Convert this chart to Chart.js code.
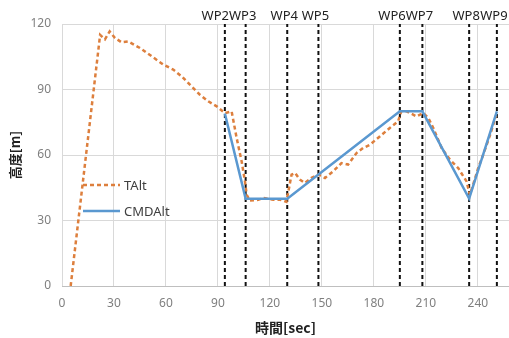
<!DOCTYPE html>
<html>
<head>
<meta charset="utf-8">
<script src="https://cdn.jsdelivr.net/npm/chart.js@4/dist/chart.umd.min.js"></script>
<style>
  body { margin: 0; background: #fff; }
  #wrap { width: 509px; height: 338px; position: relative; }
</style>
</head>
<body>
<div id="wrap"><canvas id="altChart"></canvas></div>
<script>
// TAlt: measured altitude [m] against time [sec]
const talTime = [5, 22, 24.8, 27.5, 30.6, 34.4, 38.3, 45, 51.8, 58.5, 64.2, 69.1, 74.8, 79.6, 84.4, 89.3,
  94, 97.9, 100.8, 103.7, 105.6, 106.6, 108.5, 113.3, 116.1, 121.9, 126, 129.5, 132.5, 134.5, 137.3,
  140.2, 144, 147.9, 151.8, 156.5, 161.3, 165.1, 170, 173.8, 177.7, 183.4, 189.2, 194, 195.8, 198.9,
  204.6, 208.5, 211.4, 214.3, 219.1, 223.9, 228.7, 233.5, 235.4, 237.3, 240.2, 243.1, 247, 250.5];
const talAlt = [0, 115, 113, 116.6, 113.6, 111.6, 112, 109, 105.2, 101.4, 99.1, 96, 91.4, 87.6, 84.6, 82.3,
  79.2, 80, 67.8, 57, 47.9, 41.8, 39.1, 39.5, 40.3, 39.5, 39.5, 38.5, 51, 51.8, 48.7,
  47.2, 49.5, 51, 49.5, 52.5, 56.3, 55.6, 60.9, 63.2, 64.7, 68.5, 72.4, 75.4, 80, 80,
  77.7, 79.2, 77, 72.4, 63.2, 57.9, 54, 47.9, 41.8, 46.4, 54, 60.1, 69, 78];

// CMDAlt: commanded altitude at each waypoint
const cmdTime = [94, 106, 130, 195, 208, 235, 251];
const cmdAlt = [79, 40, 40, 80, 80, 40, 80];

// waypoint markers
const wpNames = ['WP2', 'WP3', 'WP4', 'WP5', 'WP6', 'WP7', 'WP8', 'WP9'];
const wpTimes = [94, 106, 130, 148, 195, 208, 235, 251];

const xTicks = [0, 30, 60, 90, 120, 150, 180, 210, 240];
const yTicks = [0, 30, 60, 90, 120];

const orange = '#DD7F3D';
const blue = '#5A98D0';

const toPts = (xs, ys) => xs.map((x, i) => ({ x: x, y: ys[i] }));

const datasets = [
  { label: 'CMDAlt', data: toPts(cmdTime, cmdAlt), borderColor: blue, borderWidth: 2.5,
    pointRadius: 0, showLine: true, order: 0 },
  { label: 'TAlt', data: toPts(talTime, talAlt), borderColor: orange, borderWidth: 2.5,
    borderDash: [4, 3], pointRadius: 0, showLine: true, order: 1 }
];
wpTimes.forEach(t => {
  datasets.push({ label: '', wp: true, data: [{ x: t, y: 0 }, { x: t, y: 120 }],
    borderColor: '#111', borderWidth: 2, borderDash: [4, 3], pointRadius: 0, showLine: true, order: 2 });
});

// waypoint names above the plot; a label is pushed left if it would run into the next one
const wpLabels = {
  id: 'wpLabels',
  afterDraw(chart) {
    const ctx = chart.ctx, xs = chart.scales.x;
    ctx.save();
    ctx.font = '13px "Noto Sans", sans-serif';
    ctx.fillStyle = '#222';
    ctx.textAlign = 'center';
    ctx.textBaseline = 'middle';
    let nextLeft = Infinity;
    for (let i = wpNames.length - 1; i >= 0; i--) {
      const w = ctx.measureText(wpNames[i]).width;
      let cx = xs.getPixelForValue(wpTimes[i]) - 3;
      if (cx + w / 2 > nextLeft) cx = nextLeft - w / 2;
      ctx.fillText(wpNames[i], cx, 16);
      nextLeft = cx - w / 2;
    }
    ctx.restore();
  }
};

// legend inside the plot area
const innerLegend = {
  id: 'innerLegend',
  afterDatasetsDraw(chart) {
    const ctx = chart.ctx, a = chart.chartArea;
    const items = chart.data.datasets.filter(d => !d.wp).reverse();
    ctx.save();
    ctx.font = '13px "Noto Sans", sans-serif';
    ctx.textBaseline = 'middle';
    items.forEach((d, i) => {
      const y = a.top + 161 + i * 26;
      const x0 = a.left + 21;
      ctx.strokeStyle = d.borderColor;
      ctx.lineWidth = d.borderWidth;
      ctx.setLineDash(d.borderDash || []);
      ctx.beginPath();
      ctx.moveTo(x0, y);
      ctx.lineTo(x0 + 37, y);
      ctx.stroke();
      ctx.setLineDash([]);
      ctx.fillStyle = '#404040';
      ctx.fillText(d.label, x0 + 41, y + 1);
    });
    ctx.restore();
  }
};

new Chart(document.getElementById('altChart'), {
  type: 'scatter',
  data: { datasets: datasets },
  plugins: [wpLabels, innerLegend],
  options: {
    responsive: true,
    maintainAspectRatio: false,
    animation: false,
    layout: { padding: { top: 24, right: 0, left: 0, bottom: 0 } },
    plugins: { legend: { display: false }, tooltip: { enabled: false } },
    scales: {
      x: {
        type: 'linear', min: 0, max: 258,
        afterBuildTicks: s => { s.ticks = xTicks.map(v => ({ value: v })); },
        afterFit: s => { s.height = 52; },
        grid: { color: '#d9d9d9', drawTicks: false },
        border: { color: '#bfbfbf' },
        ticks: { padding: 10, color: '#7f7f7f', font: { family: 'Noto Sans', size: 12 } },
        title: { display: true, text: '時間[sec]', color: '#222', padding: { top: 0, bottom: 2 },
          font: { family: '"Noto Sans CJK JP"', size: 14, weight: 'bold' } }
      },
      y: {
        min: 0, max: 120,
        afterBuildTicks: s => { s.ticks = yTicks.map(v => ({ value: v })); },
        afterFit: s => { s.width = 62; },
        grid: { color: '#d9d9d9', drawTicks: false },
        border: { display: false },
        ticks: { padding: 11, color: '#7f7f7f', font: { family: 'Noto Sans', size: 12 } },
        title: { display: true, text: '高度[m]', color: '#222', padding: { top: 7, bottom: 0 },
          font: { family: '"Noto Sans CJK JP"', size: 13, weight: 'bold' } }
      }
    }
  }
});
</script>
</body>
</html>
